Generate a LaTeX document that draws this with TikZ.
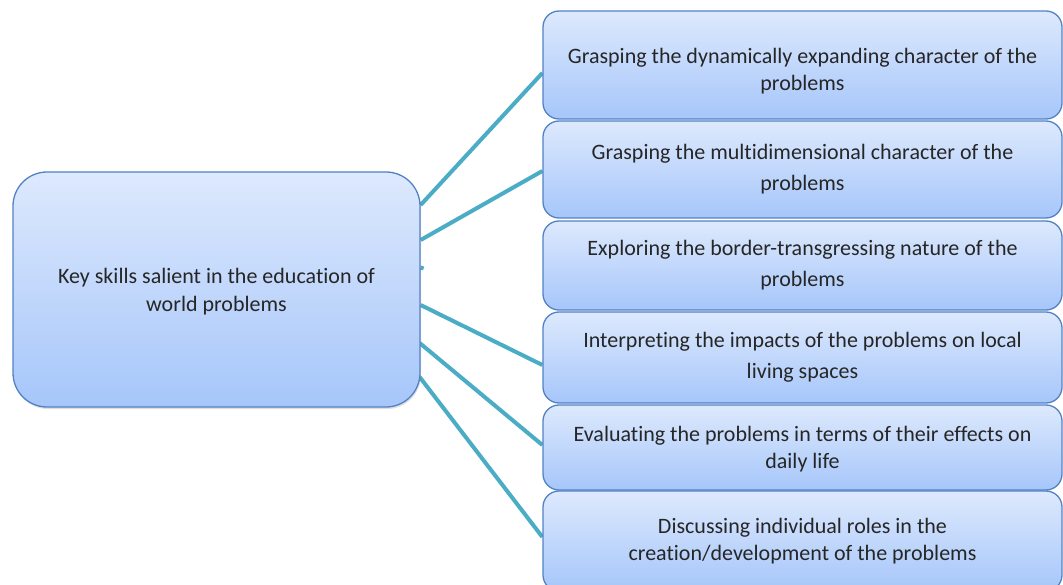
\documentclass[tikz,border=0pt]{standalone}
\usepackage{fontspec}
\setmainfont{Carlito}[Ligatures=NoCommon]
\usetikzlibrary{shadows,backgrounds}
\definecolor{boxtop}{HTML}{DDE9FD}
\definecolor{boxbot}{HTML}{A6C6FA}
\definecolor{boxline}{HTML}{5282C4}
\definecolor{conn}{HTML}{4BACC6}
\definecolor{txt}{HTML}{262626}
\begin{document}
\begin{tikzpicture}[x=1pt,y=-1pt,
  box/.style={draw=boxline, line width=1.3pt, top color=boxtop, bottom color=boxbot,
    rounded corners=16pt, align=center, text=txt, inner sep=0pt,
    font=\fontsize{22}{29}\selectfont, minimum width=519pt},
  link/.style={draw=conn, line width=4pt}]
\useasboundingbox (0,0) rectangle (1063,585);
\clip (0,0) rectangle (1063,585);
\node[box, minimum width=407pt, minimum height=235pt, rounded corners=34pt,
  drop shadow={opacity=0.25, shadow xshift=1pt, shadow yshift=-2pt},
  font=\fontsize{22}{28}\selectfont] (L) at (216.5,289.5)
  {\rule{0pt}{19pt}Key skills salient in the education of\\world problems};
\node[box, minimum height=108pt, font=\fontsize{22}{27}\selectfont] (B1) at (802.5,65)
  {\rule{0pt}{27pt}Grasping the dynamically expanding character of the\\problems};
\node[box, minimum height=97pt, font=\fontsize{22}{31}\selectfont] (B2) at (802.5,169.5)
  {Grasping the multidimensional character of the\\problems};
\node[box, minimum height=89pt, font=\fontsize{22}{31}\selectfont] (B3) at (802.5,265.5)
  {Exploring the border-transgressing nature of the\\problems};
\node[box, minimum height=91pt, font=\fontsize{22}{31}\selectfont] (B4) at (802.5,357.5)
  {Interpreting the impacts of the problems on local\\living spaces};
\node[box, minimum height=85pt, font=\fontsize{22}{27}\selectfont] (B5) at (802.5,447.5)
  {\rule{0pt}{19pt}Evaluating the problems in terms of their effects on\\daily life};
\node[box, minimum height=100pt, font=\fontsize{22}{27}\selectfont] (B6) at (802.5,541)
  {Discussing individual roles in the\\creation/development of the problems};
\begin{pgfonlayer}{background}
\draw[link] ([yshift=84.5pt]L.east) -- ([yshift=-8pt]B1.west);
\draw[link] ([yshift=49.5pt]L.east) -- ([yshift=-1.5pt]B2.west);
\draw[link] ([yshift=22pt]L.east) -- ([yshift=21pt,xshift=3pt]L.east);
\draw[link] ([yshift=-15.5pt]L.east) -- ([yshift=-7.5pt]B4.west);
\draw[link] ([yshift=-53.5pt,xshift=-1pt]L.east) -- ([yshift=2.5pt]B5.west);
\draw[link] ([yshift=-87.5pt,xshift=-1pt]L.east) -- ([yshift=4pt]B6.west);
\end{pgfonlayer}
\end{tikzpicture}
\end{document}
